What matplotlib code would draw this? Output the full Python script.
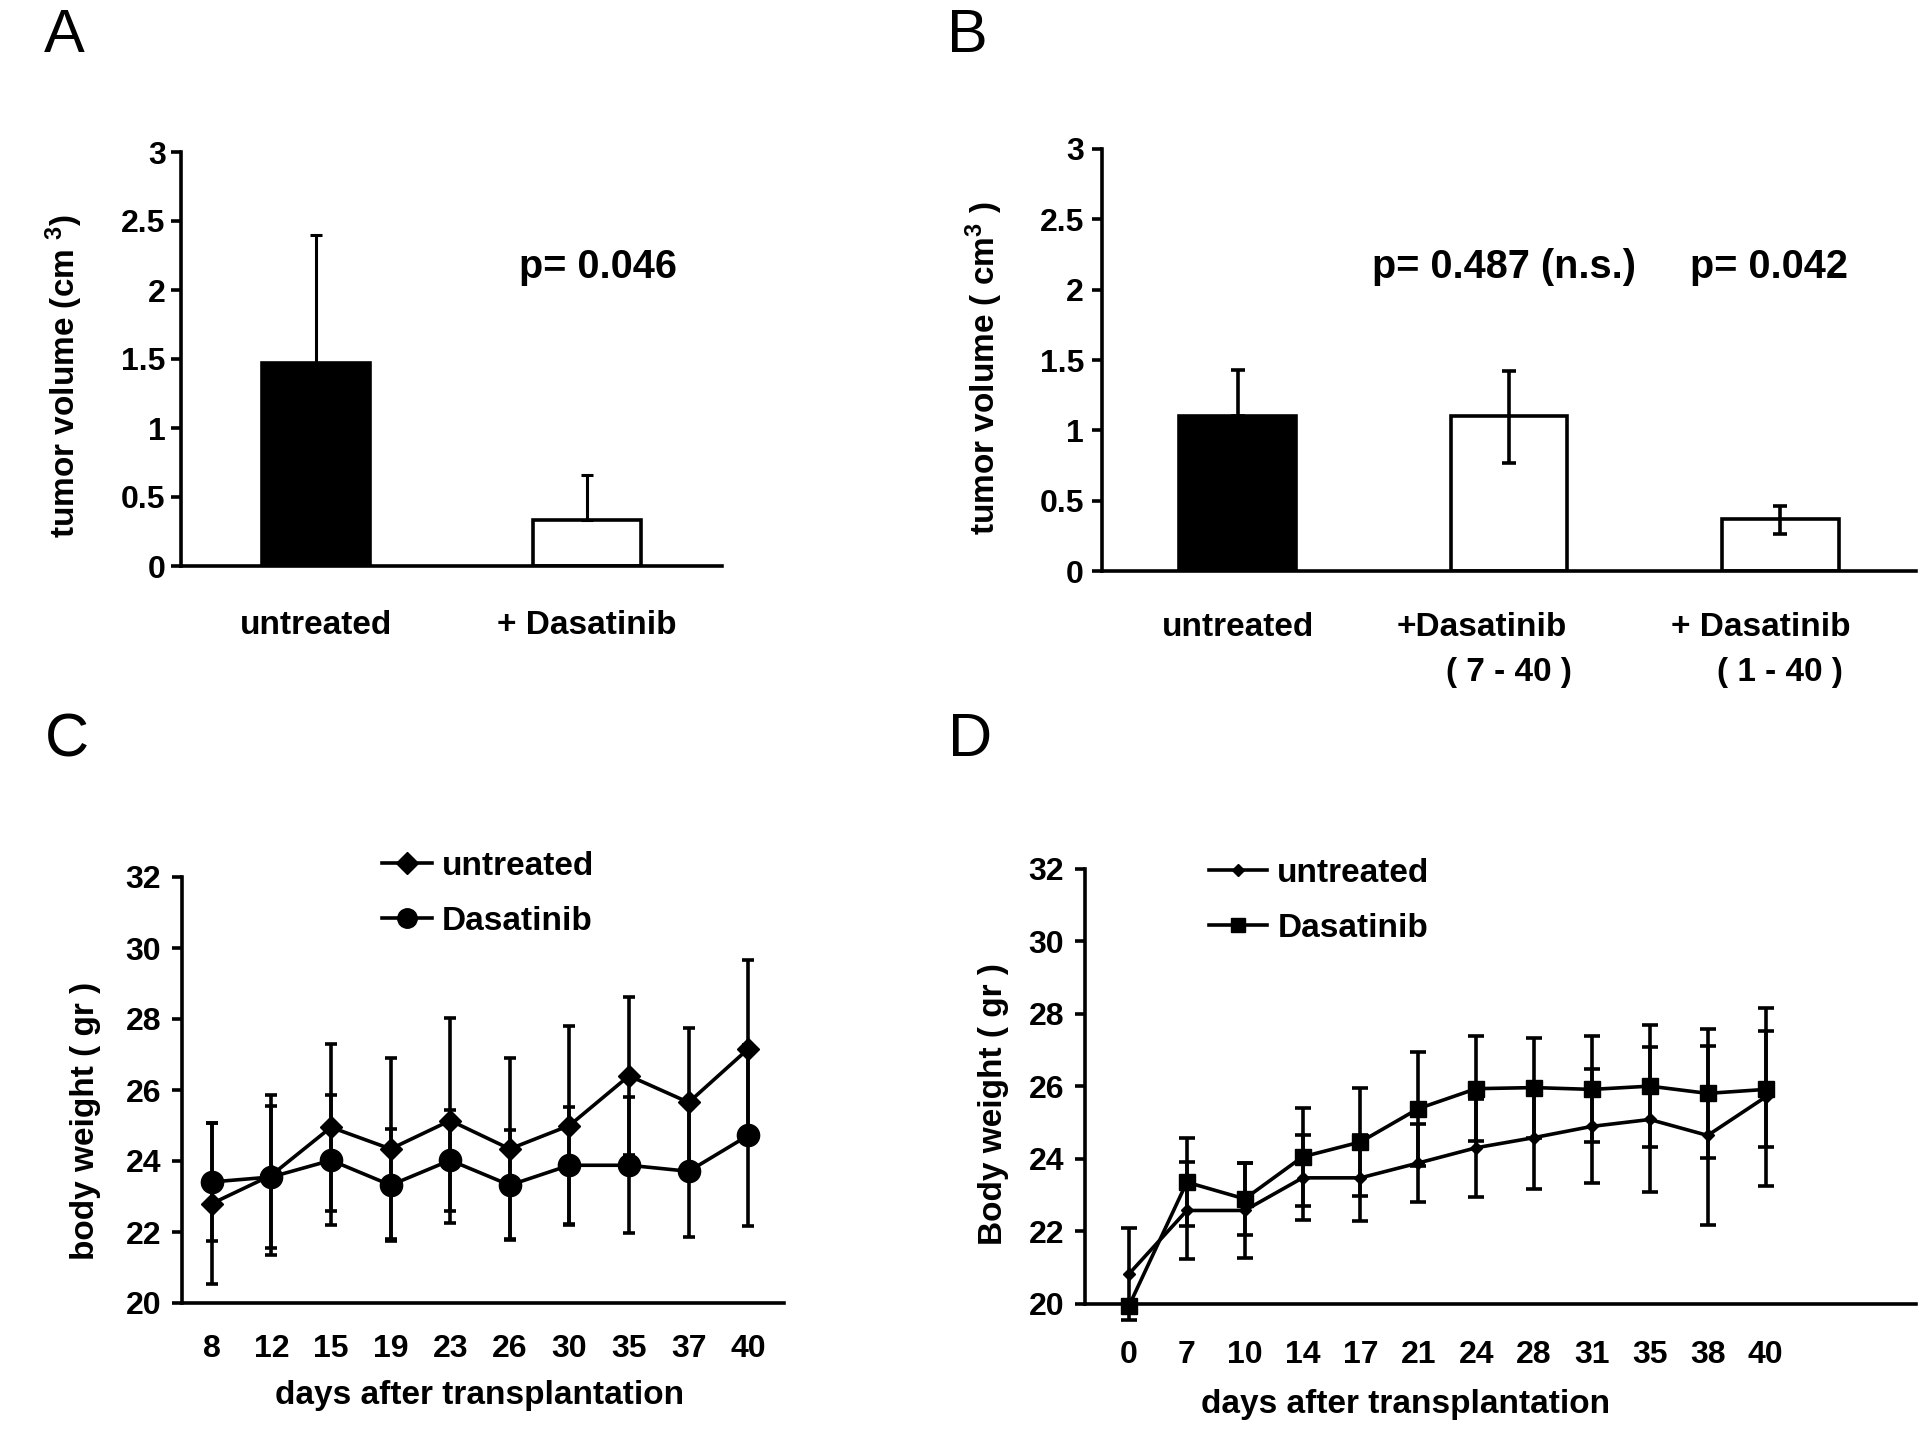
import matplotlib
matplotlib.use("Agg")
import matplotlib.pyplot as plt
import matplotlib.transforms as mtransforms
from matplotlib.lines import Line2D
import numpy as np

plt.rcParams['font.family'] = ['Liberation Sans', 'DejaVu Sans']
plt.rcParams['font.weight'] = 'bold'
plt.rcParams['mathtext.default'] = 'regular'

# ---------------- data ----------------
a_groups = ['untreated', '+ Dasatinib']
a_values = [1.47, 0.33]
a_err_upper = [0.93, 0.33]

b_groups = ['untreated', '+Dasatinib', '+ Dasatinib']
b_sub = ['', '( 7 - 40 )', '( 1 - 40 )']
b_values = [1.10, 1.10, 0.37]
b_err_lower = [0.0, 0.33, 0.11]
b_err_upper = [0.33, 0.32, 0.09]

vol_ticks = [0, 0.5, 1, 1.5, 2, 2.5, 3]
vol_ticklabels = ['0', '0.5', '1', '1.5', '2', '2.5', '3']

days_c = ['8', '12', '15', '19', '23', '26', '30', '35', '37', '40']
c_untreated = [22.80, 23.60, 24.95, 24.34, 25.14, 24.34, 25.00, 26.40, 25.65, 27.16]
c_untreated_err = [2.27, 2.25, 2.35, 2.55, 2.90, 2.55, 2.80, 2.22, 2.10, 2.49]
c_dasatinib = [23.41, 23.55, 24.02, 23.32, 24.02, 23.32, 23.88, 23.88, 23.71, 24.72]
c_dasatinib_err = [1.65, 2.00, 1.83, 1.58, 1.42, 1.55, 1.65, 1.92, 1.84, 2.54]

days_d = ['0', '7', '10', '14', '17', '21', '24', '28', '31', '35', '38', '40']
d_untreated = [20.83, 22.58, 22.58, 23.48, 23.48, 23.89, 24.31, 24.59, 24.90, 25.09, 24.65, 25.71]
d_untreated_err = [1.27, 1.35, 1.32, 1.17, 1.19, 1.08, 1.35, 1.41, 1.57, 2.00, 2.48, 2.45]
d_dasatinib = [19.95, 23.36, 22.90, 24.06, 24.47, 25.39, 25.94, 25.97, 25.92, 26.01, 25.81, 25.92]
d_dasatinib_err = [0.15, 1.22, 1.00, 1.35, 1.48, 1.57, 1.45, 1.38, 1.46, 1.68, 1.78, 1.60]

weight_ticks = [20, 22, 24, 26, 28, 30, 32]

# ---------------- layout ----------------
W, H = 1920, 1445
fig = plt.figure(figsize=(W / 100, H / 100), dpi=100)
fig.patch.set_facecolor('white')


def px_axes(left, right, top, bottom):
    return fig.add_axes([left / W, 1 - bottom / H, (right - left) / W, (bottom - top) / H])


def fxy(px, py):
    return px / W, 1 - py / H


LW = 2.6
TICK_FS = 23
LAB_FS = 24
P_FS = 28.5


def style(ax, ypad=3):
    for s in ['top', 'right']:
        ax.spines[s].set_visible(False)
    for s in ['left', 'bottom']:
        ax.spines[s].set_linewidth(LW)
    ax.tick_params(axis='y', direction='out', length=7, width=LW, pad=ypad,
                   labelsize=TICK_FS)
    ax.tick_params(axis='x', length=0, labelsize=LAB_FS)
    for lab in ax.get_yticklabels() + ax.get_xticklabels():
        lab.set_fontweight('bold')


# ---------- Panel A ----------
axA = px_axes(181, 722, 152, 566)
xa = np.arange(len(a_groups))
axA.bar(xa, a_values, width=0.40, color=['black', 'white'], edgecolor='black',
        linewidth=LW, zorder=2)
axA.errorbar(xa, a_values, yerr=[[0, 0], a_err_upper], fmt='none', ecolor='black',
             elinewidth=2.2, capsize=4, capthick=2.2, zorder=3)
axA.set_xlim(-0.5, 1.5)
axA.set_ylim(0, 3)
axA.set_yticks(vol_ticks)
axA.set_yticklabels(vol_ticklabels)
axA.set_xticks(xa)
axA.set_xticklabels(a_groups)
style(axA, ypad=4)
axA.tick_params(axis='x', pad=32)
axA.set_ylabel('tumor volume (cm $^{3}$)', fontsize=LAB_FS, fontweight='bold')
axA.yaxis.set_label_coords(*fxy(85, 376), transform=fig.transFigure)
axA.text(1.04, 2.17, 'p= 0.046', fontsize=P_FS, fontweight='bold', ha='center', va='center')

# ---------- Panel B ----------
axB = px_axes(1102, 1916, 149, 571)
xb = np.arange(len(b_groups))
axB.bar(xb, b_values, width=0.43, color=['black', 'white', 'white'], edgecolor='black',
        linewidth=LW, zorder=2)
axB.errorbar(xb, b_values, yerr=[b_err_lower, b_err_upper], fmt='none', ecolor='black',
             elinewidth=LW, capsize=5, capthick=LW, zorder=3)
axB.set_xlim(-0.5, 2.5)
axB.set_ylim(0, 3)
axB.set_yticks(vol_ticks)
axB.set_yticklabels(vol_ticklabels)
axB.set_xticks(xb)
axB.set_xticklabels([])
style(axB, ypad=6)
axB.set_ylabel('tumor volume ( cm$^{3}$ )', fontsize=LAB_FS, fontweight='bold')
axB.yaxis.set_label_coords(*fxy(1005, 368), transform=fig.transFigure)
trB = mtransforms.blended_transform_factory(axB.transData, fig.transFigure)
line1_dx = [0, -27, -20]   # pixel offsets of the first line, as in the original
for i, (g, s) in enumerate(zip(b_groups, b_sub)):
    off = mtransforms.ScaledTranslation(line1_dx[i] / 100, 0, fig.dpi_scale_trans)
    axB.text(i, 1 - 627 / H, g, transform=trB + off, fontsize=LAB_FS,
             fontweight='bold', ha='center', va='center')
    if s:
        axB.text(i, 1 - 672 / H, s, transform=trB, fontsize=LAB_FS, fontweight='bold',
                 ha='center', va='center')
axB.text(0.98, 2.16, 'p= 0.487 (n.s.)', fontsize=P_FS, fontweight='bold', ha='center', va='center')
axB.text(1.96, 2.16, 'p= 0.042', fontsize=P_FS, fontweight='bold', ha='center', va='center')

# ---------- Panel C ----------
axC = px_axes(182, 784, 877, 1303)
xc = np.arange(len(days_c))
axC.errorbar(xc, c_untreated, yerr=c_untreated_err, fmt='-', marker='D', markersize=11,
             color='black', linewidth=LW, elinewidth=LW, capsize=4, capthick=LW,
             clip_on=False, zorder=3)
axC.errorbar(xc, c_dasatinib, yerr=c_dasatinib_err, fmt='-', marker='o', markersize=16,
             color='black', linewidth=LW, elinewidth=LW, capsize=4, capthick=LW,
             clip_on=False, zorder=3)
axC.set_xlim(-0.5, 9.6)
axC.set_ylim(20, 32)
axC.set_yticks(weight_ticks)
axC.set_xticks(xc)
axC.set_xticklabels(days_c)
style(axC, ypad=8)
axC.tick_params(axis='x', pad=22, labelsize=TICK_FS)
axC.set_ylabel('body weight ( gr )', fontsize=LAB_FS, fontweight='bold')
axC.yaxis.set_label_coords(*fxy(101, 1121), transform=fig.transFigure)
axC.set_xlabel('days after transplantation', fontsize=LAB_FS, fontweight='bold')
axC.xaxis.set_label_coords(*fxy(480, 1380), transform=fig.transFigure)
hC = [Line2D([], [], color='black', lw=LW, marker='D', markersize=11),
      Line2D([], [], color='black', lw=LW, marker='o', markersize=14)]
legC = axC.legend(hC, ['untreated', 'Dasatinib'], loc='upper left',
                  bbox_to_anchor=fxy(382, 851),
                  bbox_transform=fig.transFigure, frameon=False, fontsize=LAB_FS,
                  handlelength=1.5, handletextpad=0.3, labelspacing=0.72,
                  borderpad=0, borderaxespad=0)
for t in legC.get_texts():
    t.set_fontweight('bold')

# ---------- Panel D ----------
axD = px_axes(1085, 1916, 869, 1304)
xd = np.arange(len(days_d))
axD.errorbar(xd, d_untreated, yerr=d_untreated_err, fmt='-', marker='D', markersize=6,
             color='black', linewidth=LW, elinewidth=LW, capsize=6, capthick=LW,
             clip_on=False, zorder=3)
axD.errorbar(xd, d_dasatinib, yerr=d_dasatinib_err, fmt='-', marker='s', markersize=11,
             color='black', linewidth=LW, elinewidth=LW, capsize=6, capthick=LW,
             clip_on=False, zorder=3)
axD.set_xlim(-0.76, 13.6)
axD.set_ylim(20, 32)
axD.set_yticks(weight_ticks)
axD.set_xticks(xd)
axD.set_xticklabels(days_d)
style(axD, ypad=8)
axD.tick_params(axis='x', pad=26, labelsize=TICK_FS)
axD.set_ylabel('Body weight ( gr )', fontsize=LAB_FS, fontweight='bold')
axD.yaxis.set_label_coords(*fxy(1009, 1104), transform=fig.transFigure)
axD.set_xlabel('days after transplantation', fontsize=LAB_FS, fontweight='bold')
axD.xaxis.set_label_coords(*fxy(1406, 1389), transform=fig.transFigure)
hD = [Line2D([], [], color='black', lw=LW, marker='D', markersize=6),
      Line2D([], [], color='black', lw=LW, marker='s', markersize=10)]
legD = axD.legend(hD, ['untreated', 'Dasatinib'], loc='upper left',
                  bbox_to_anchor=fxy(1209, 858),
                  bbox_transform=fig.transFigure, frameon=False, fontsize=LAB_FS,
                  handlelength=1.75, handletextpad=0.3, labelspacing=0.72,
                  borderpad=0, borderaxespad=0)
for t in legD.get_texts():
    t.set_fontweight('bold')

# ---------- Panel letters ----------
for letter, (px, py) in zip(['A', 'B', 'C', 'D'],
                            [(64, 37), (967, 37), (67, 741), (970, 741)]):
    fig.text(*fxy(px, py), letter, fontsize=44, fontweight='normal',
             ha='center', va='center')

fig.savefig('out.png', dpi=100, facecolor='white')
